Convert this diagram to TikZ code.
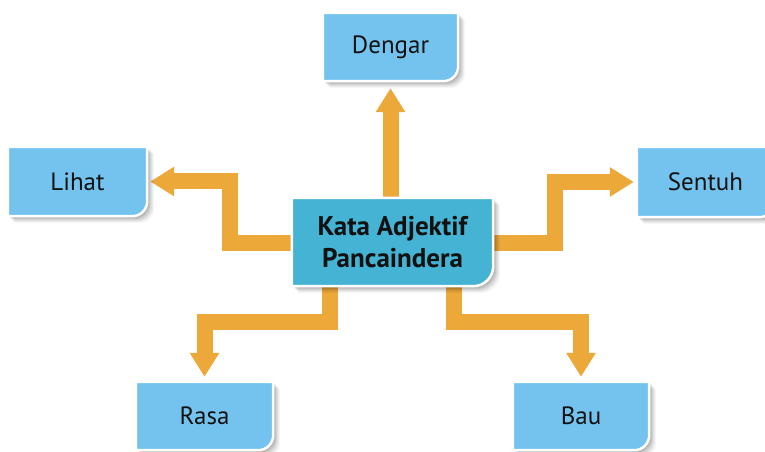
\documentclass[tikz,border=0pt]{standalone}
\usepackage{fontspec}
\setmainfont{PT Sans}
\usetikzlibrary{arrows.meta}
\definecolor{arrorange}{HTML}{EDA83A}
\definecolor{boxblue}{HTML}{74C3EE}
\definecolor{centerblue}{HTML}{45B3D4}
\definecolor{txtcol}{HTML}{111111}
\pgfdeclarelayer{arrlayer}
\pgfdeclarelayer{boxlayer}
\pgfsetlayers{arrlayer,boxlayer,main}
\newcommand{\drawcornerbox}[3]{%
  \begin{pgfonlayer}{boxlayer}
  \foreach \s/\o in {7/0.03,6/0.04,5/0.05,4/0.06,3/0.07,2/0.08}{%
    \fill[black,opacity=\o]
      ([xshift=\s pt,yshift=-\s pt]#1.north west) --
      ([xshift=\s pt,yshift=-\s pt]#1.north east) --
      ([xshift=\s pt,yshift=-\s pt+#3]#1.south east)
      arc[start angle=0,end angle=-90,radius=#3] --
      ([xshift=\s pt,yshift=-\s pt]#1.south west) -- cycle;}
  \filldraw[fill=#2,draw=white,line width=2.5pt]
      (#1.north west) -- (#1.north east) --
      ([yshift=#3]#1.south east)
      arc[start angle=0,end angle=-90,radius=#3] --
      (#1.south west) -- cycle;
  \end{pgfonlayer}}
\begin{document}
\begin{tikzpicture}[x=1pt,y=1pt,
  lbl/.style={inner sep=0pt,text=txtcol,font=\fontsize{25}{29}\selectfont,
    minimum width=136pt,minimum height=68pt},
  mainlbl/.style={inner sep=0pt,text=txtcol,align=center,
    font=\fontsize{27}{32}\selectfont\bfseries,minimum width=201pt,minimum height=88pt},
  arr/.style={draw=arrorange,line width=16pt,line join=miter,
    -{Triangle[width=28pt,length=24pt]}}]
\useasboundingbox (0,0) rectangle (765,452);
\clip (0,0) rectangle (765,452);
\node[mainlbl] (c) at (392.5,210) {Kata Adjektif\\Pancaindera};
\node[lbl,minimum width=135pt] (dengar) at (390.5,405) {Dengar};
\node[lbl,minimum width=139pt,minimum height=69pt] (lihat) at (77.5,270.5) {Lihat};
\node[lbl,minimum width=137pt,minimum height=70pt] (sentuh) at (705.5,270) {Sentuh};
\node[lbl,minimum width=137pt] (rasa) at (204.5,36) {Rasa};
\node[lbl] (bau) at (581,36) {Bau};
\drawcornerbox{c}{centerblue}{20pt}
\drawcornerbox{dengar}{boxblue}{15pt}
\drawcornerbox{lihat}{boxblue}{15pt}
\drawcornerbox{sentuh}{boxblue}{15pt}
\drawcornerbox{rasa}{boxblue}{15pt}
\drawcornerbox{bau}{boxblue}{15pt}
\begin{pgfonlayer}{arrlayer}
\draw[arr] (c.north -| dengar.south) -- ([yshift=-7pt]dengar.south);
\draw[arr] (c.west |- 0,208.5) -- (230,208.5) |- ([xshift=3pt]lihat.east);
\draw[arr] (c.east |- 0,208.5) -- (554.5,208.5) |- ([xshift=-3pt]sentuh.west);
\draw[arr] (c.south -| 330,0) -- (330,130) -| ([yshift=5pt]rasa.north);
\draw[arr] (c.south -| 453.5,0) -- (453.5,130) -| ([yshift=5pt]bau.north);
\end{pgfonlayer}
\end{tikzpicture}
\end{document}
